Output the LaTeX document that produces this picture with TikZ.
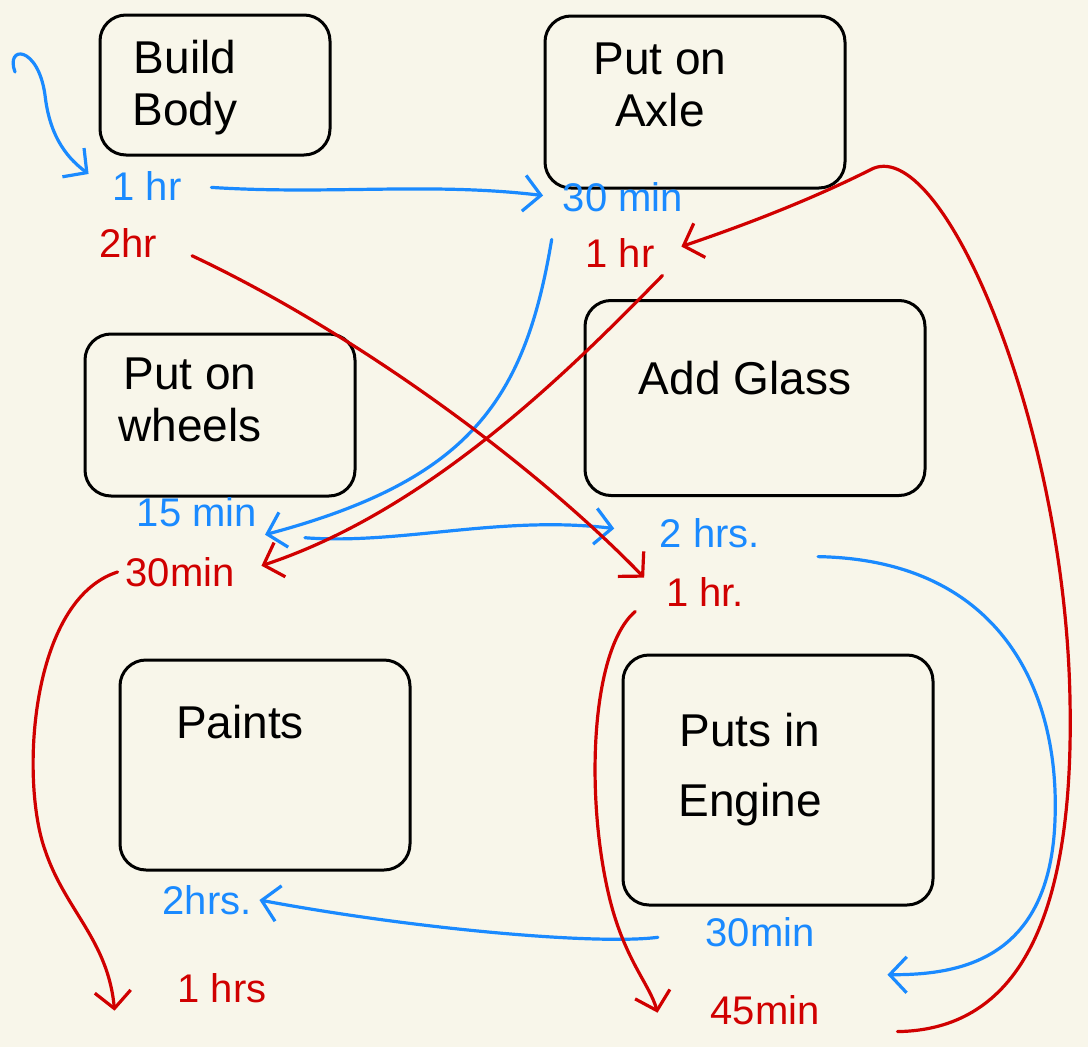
\documentclass[tikz,border=0pt]{standalone}
\usepackage{fontspec}
\setmainfont{Liberation Sans}
\usetikzlibrary{arrows.meta}
\definecolor{papel}{HTML}{F8F6EA}
\definecolor{azul}{HTML}{1A8AFF}
\definecolor{rojo}{HTML}{D00000}

\begin{document}
\begin{tikzpicture}[x=1pt, y=-1pt, line cap=round, line join=round,
        caja/.style={draw=black, line width=3pt, rounded corners=26pt},
        tx/.style={font=\fontsize{46}{52}\selectfont, align=center},
        tb/.style={font=\fontsize{40}{44}\selectfont, text=azul, inner sep=2pt, outer sep=6pt},
        tr/.style={tb, text=rojo},
        fa/.style={-{Straight Barb[length=17pt, width=36pt]}, line width=3.2pt, azul},
        fr/.style={fa, rojo}]
        \useasboundingbox (0,0) rectangle (1088,1047);
        \fill[papel] (0,0) rectangle (1088,1047);
        % cajas
        \node[caja, minimum width=230pt, minimum height=140pt] (body) at (215,85) {};
        \node[caja, minimum width=300pt, minimum height=172pt] (axle) at (695,102) {};
        \node[caja, minimum width=270pt, minimum height=162pt] (wheels) at (220,415) {};
        \node[caja, minimum width=340pt, minimum height=195pt] (glass) at (755,398) {};
        \node[caja, minimum width=290pt, minimum height=210pt] (paint) at (265,765) {};
        \node[caja, minimum width=310pt, minimum height=250pt] (engine) at (778,780) {};
        \node[tx] (bodyt) at (185,88) {Build\\Body};
        \node[tx] (axlet) at (660,85) {Put on\\Axle};
        \node[tx] (wheelst) at (190,400) {Put on\\wheels};
        \node[tx] (glasst) at (745,378) {Add Glass};
        \node[tx] (paintt) at (240,722) {Paints};
        \node[tx] (enginet) at (750,770) {Puts in\\[18pt]Engine};
        % tiempos
        \node[tb] (b1) at (147,186) {1 hr};
        \node[tr] (b2) at (128,243) {2hr};
        \node[tb] (a1) at (623,197) {30 min};
        \node[tr] (a2) at (620,253) {1 hr};
        \node[tb] (w1) at (197,512) {15 min};
        \node[tr] (w2) at (180,572) {30min};
        \node[tb] (g1) at (710,533) {2 hrs.};
        \node[tr] (g2) at (705,592) {1 hr.};
        \node[tb] (p1) at (207,900) {2hrs.};
        \node[tr] (p2) at (222,988) {1 hrs};
        \node[tb] (e1) at (760,932) {30min};
        \node[tr] (e2) at (765,1010) {45min};
        \coordinate (start) at (15,72);
        % azul
        \draw[fa, shorten >=20pt] (start) .. controls (5,45) and (38,45) .. (45,95) .. controls (50,140) and (70,160) .. (b1.west);
        \draw[fa, shorten <=22pt, shorten >=12pt] (b1.east) .. controls (330,195) and (430,182) .. (a1.west);
        \draw[fa, shorten <=20pt] (a1.south west) .. controls (525,400) and (470,480) .. (w1.south east);
        \draw[fa, shorten <=40pt, shorten >=38pt] (w1.south east) .. controls (400,545) and (500,515) .. (g1.west);
        \draw[fa, shorten <=50pt] (g1.south east) .. controls (1000,560) and (1060,690) .. (1055,820) .. controls (1050,960) and (960,975) .. ([xshift=65pt, yshift=-20pt]e1.south east);
        \draw[fa, shorten <=40pt] (e1.west) .. controls (600,945) and (420,930) .. (p1.east);
        % rojo
        \draw[fr, shorten <=30pt, shorten >=20pt] (b2.east) .. controls (350,330) and (530,460) .. (g2.west);
        \draw[fr, shorten <=70pt, shorten >=20pt] (e2.south east) .. controls (1000,1030) and (1075,950) .. (1070,700) .. controls (1065,420) and (940,130) .. (870,170) .. controls (800,205) and (730,230) .. (a2.east);
        \draw[fr, shorten >=20pt] (a2.south east) .. controls (570,370) and (430,510) .. (w2.east);
        \draw[fr] (w2.west) .. controls (30,600) and (20,780) .. (45,850) .. controls (65,910) and (108,940) .. ([xshift=-55pt]p2.south west);
        \draw[fr, shorten <=30pt] (g2.west) .. controls (590,650) and (585,800) .. (610,900) .. controls (625,960) and (650,985) .. ([xshift=-45pt, yshift=20pt]e2.south west);
    \end{tikzpicture}
\end{document}
